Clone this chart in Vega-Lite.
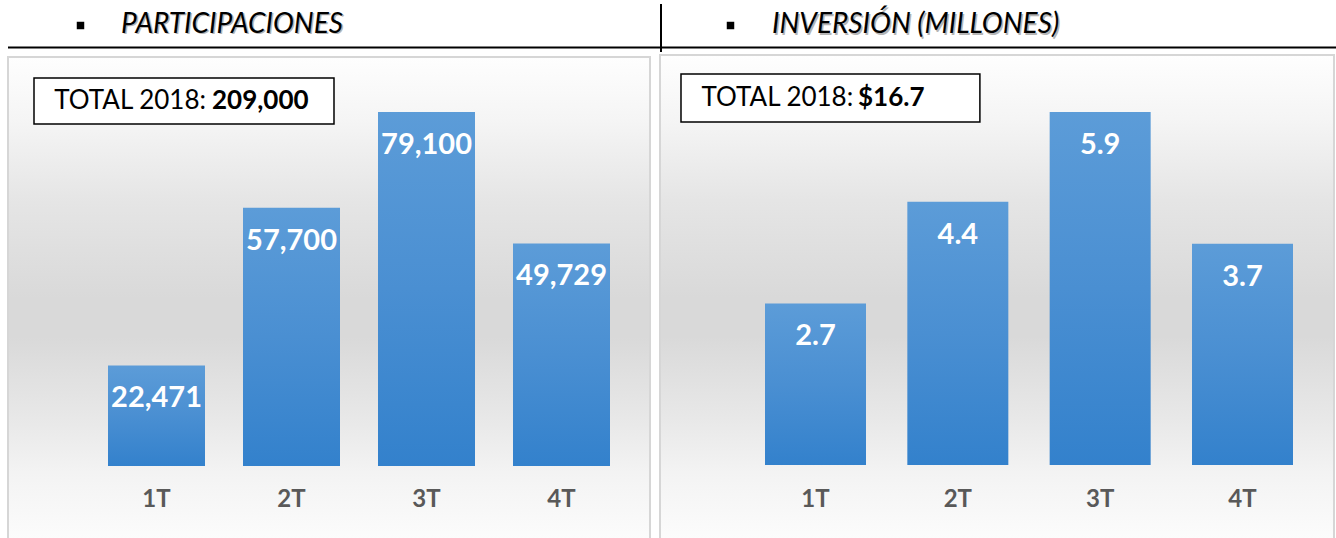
{
  "$schema": "https://vega.github.io/schema/vega-lite/v6.json",
  "padding": 0,
  "autosize": {"type": "pad"},
  "bounds": "flush",
  "spacing": 0,
  "background": "white",
  "config": {"view": {"stroke": null}, "axis": {"disable": true}, "font": "Lato", "legend": {"disable": true}},
  "hconcat": [
    {
      "width": 661,
      "height": 538,
      "data": {"values": [
        {"trimestre": "1T", "orden": 1, "valor": 22471},
        {"trimestre": "2T", "orden": 2, "valor": 57700},
        {"trimestre": "3T", "orden": 3, "valor": 79100},
        {"trimestre": "4T", "orden": 4, "valor": 49729}
      ]},
      "encoding": {
        "x": {"type": "quantitative", "scale": {"domain": [1, 4], "range": [156.5, 561.5], "nice": false, "zero": false, "padding": 0}, "axis": null},
        "y": {"type": "quantitative", "scale": {"domain": [0, 79100], "range": [466, 112], "nice": false, "zero": false, "padding": 0}, "axis": null}
      },
      "layer": [
        {
          "data": {"values": [{"panel": "fondo"}]},
          "mark": {"type": "rect", "stroke": "#d6d6d6", "strokeWidth": 2, "fill": {"gradient": "linear", "x1": 0, "y1": 0, "x2": 0, "y2": 1, "stops": [
            {"offset": 0, "color": "#fefefe"}, {"offset": 0.13, "color": "#f5f5f5"}, {"offset": 0.3, "color": "#e5e5e5"}, {"offset": 0.5, "color": "#d9d9d9"}, {"offset": 0.58, "color": "#d9d9d9"}, {"offset": 0.75, "color": "#e8e8e8"}, {"offset": 0.86, "color": "#f3f3f3"}, {"offset": 1, "color": "#fcfcfc"}]}},
          "encoding": {
            "x": {"datum": -0.1, "type": "quantitative"}, "x2": {"datum": 4.6556},
            "y": {"datum": 91390, "type": "quantitative"}, "y2": {"datum": -16535}
          }
        },
        {
          "data": {"values": [{"linea": "encabezado"}]},
          "mark": {"type": "rule", "stroke": "black", "strokeWidth": 2},
          "encoding": {
            "x": {"datum": -0.1, "type": "quantitative"}, "x2": {"datum": 4.737},
            "y": {"datum": 93513, "type": "quantitative"}
          }
        },
        {
          "data": {"values": [{"titulo": "PARTICIPACIONES"}]},
          "layer": [
            {
              "mark": {"type": "square", "size": 56, "filled": true, "color": "black", "opacity": 1},
              "encoding": {"x": {"datum": 0.437, "type": "quantitative"}, "y": {"datum": 98428, "type": "quantitative"}}
            },
            {
              "mark": {"type": "text", "align": "left", "baseline": "middle", "fontStyle": "italic", "fontSize": 28, "color": "#b5b5b5", "dx": 1.5, "dy": 1.5},
              "encoding": {"x": {"datum": 0.737, "type": "quantitative"}, "y": {"datum": 98540, "type": "quantitative"}, "text": {"field": "titulo"}}
            },
            {
              "mark": {"type": "text", "align": "left", "baseline": "middle", "fontStyle": "italic", "fontSize": 28, "color": "black"},
              "encoding": {"x": {"datum": 0.737, "type": "quantitative"}, "y": {"datum": 98540, "type": "quantitative"}, "text": {"field": "titulo"}}
            }
          ]
        },
        {
          "data": {"values": [{"etiqueta": "TOTAL 2018:", "total": "209,000"}]},
          "layer": [
            {
              "mark": {"type": "rect", "fill": "white", "stroke": "black", "strokeWidth": 1.5},
              "encoding": {"x": {"datum": 0.0926, "type": "quantitative"}, "x2": {"datum": 2.3148}, "y": {"datum": 86697, "type": "quantitative"}, "y2": {"datum": 76419}}
            },
            {
              "mark": {"type": "text", "align": "right", "baseline": "middle", "fontSize": 26, "color": "black"},
              "encoding": {"x": {"datum": 1.3667, "type": "quantitative"}, "y": {"datum": 81558, "type": "quantitative"}, "text": {"field": "etiqueta"}}
            },
            {
              "mark": {"type": "text", "align": "left", "baseline": "middle", "fontSize": 26, "fontWeight": "bold", "color": "black"},
              "encoding": {"x": {"datum": 1.4111, "type": "quantitative"}, "y": {"datum": 81558, "type": "quantitative"}, "text": {"field": "total"}}
            }
          ]
        },
        {
          "mark": {"type": "bar", "orient": "vertical", "width": 97, "color": {"gradient": "linear", "x1": 0, "y1": 0, "x2": 0, "y2": 1, "stops": [{"offset": 0, "color": "#5c9cd8"}, {"offset": 0.5, "color": "#4a8fd2"}, {"offset": 1, "color": "#3381cc"}]}},
          "encoding": {"x": {"field": "orden"}, "y": {"field": "valor"}, "y2": {"datum": 0}}
        },
        {
          "mark": {"type": "text", "baseline": "middle", "align": "center", "dy": 33, "fontSize": 29, "fontWeight": "bold", "color": "white"},
          "encoding": {"x": {"field": "orden"}, "y": {"field": "valor"}, "text": {"field": "valor", "type": "quantitative", "format": ","}}
        },
        {
          "mark": {"type": "text", "baseline": "middle", "align": "center", "fontSize": 24, "fontWeight": "bold", "color": "#595959"},
          "encoding": {"x": {"field": "orden"}, "y": {"datum": -7597, "type": "quantitative"}, "text": {"field": "trimestre"}}
        }
      ]
    },
    {
      "width": 675,
      "height": 538,
      "data": {"values": [
        {"trimestre": "1T", "orden": 1, "valor": 2.7},
        {"trimestre": "2T", "orden": 2, "valor": 4.4},
        {"trimestre": "3T", "orden": 3, "valor": 5.9},
        {"trimestre": "4T", "orden": 4, "valor": 3.7}
      ]},
      "encoding": {
        "x": {"type": "quantitative", "scale": {"domain": [1, 4], "range": [154.5, 581.5], "nice": false, "zero": false, "padding": 0}, "axis": null},
        "y": {"type": "quantitative", "scale": {"domain": [0, 5.9], "range": [465, 112], "nice": false, "zero": false, "padding": 0}, "axis": null}
      },
      "layer": [
        {
          "data": {"values": [{"panel": "fondo"}]},
          "mark": {"type": "rect", "stroke": "#d6d6d6", "strokeWidth": 2, "fill": {"gradient": "linear", "x1": 0, "y1": 0, "x2": 0, "y2": 1, "stops": [
            {"offset": 0, "color": "#fefefe"}, {"offset": 0.13, "color": "#f5f5f5"}, {"offset": 0.3, "color": "#e5e5e5"}, {"offset": 0.5, "color": "#d9d9d9"}, {"offset": 0.58, "color": "#d9d9d9"}, {"offset": 0.75, "color": "#e8e8e8"}, {"offset": 0.86, "color": "#f3f3f3"}, {"offset": 1, "color": "#fcfcfc"}]}},
          "encoding": {
            "x": {"datum": -0.0925, "type": "quantitative"}, "x2": {"datum": 4.6429},
            "y": {"datum": 6.8527, "type": "quantitative"}, "y2": {"datum": -1.2535}
          }
        },
        {
          "data": {"values": [{"linea": "encabezado"}]},
          "layer": [
            {
              "mark": {"type": "rule", "stroke": "black", "strokeWidth": 2},
              "encoding": {"x": {"datum": -0.0855, "type": "quantitative"}, "x2": {"datum": 4.6573}, "y": {"datum": 6.978, "type": "quantitative"}}
            },
            {
              "mark": {"type": "rule", "stroke": "black", "strokeWidth": 2},
              "encoding": {"x": {"datum": -0.0855, "type": "quantitative"}, "y": {"datum": 7.7051, "type": "quantitative"}, "y2": {"datum": 6.9028}}
            }
          ]
        },
        {
          "data": {"values": [{"titulo": "INVERSIÓN (MILLONES)"}]},
          "layer": [
            {
              "mark": {"type": "square", "size": 56, "filled": true, "color": "black", "opacity": 1},
              "encoding": {"x": {"datum": 0.4028, "type": "quantitative"}, "y": {"datum": 7.3457, "type": "quantitative"}}
            },
            {
              "mark": {"type": "text", "align": "left", "baseline": "middle", "fontStyle": "italic", "fontSize": 28, "color": "#b5b5b5", "dx": 1.5, "dy": 1.5},
              "encoding": {"x": {"datum": 0.6944, "type": "quantitative"}, "y": {"datum": 7.354, "type": "quantitative"}, "text": {"field": "titulo"}}
            },
            {
              "mark": {"type": "text", "align": "left", "baseline": "middle", "fontStyle": "italic", "fontSize": 28, "color": "black"},
              "encoding": {"x": {"datum": 0.6944, "type": "quantitative"}, "y": {"datum": 7.354, "type": "quantitative"}, "text": {"field": "titulo"}}
            }
          ]
        },
        {
          "data": {"values": [{"etiqueta": "TOTAL 2018:", "total": "$16.7"}]},
          "layer": [
            {
              "mark": {"type": "rect", "fill": "white", "stroke": "black", "strokeWidth": 1.5},
              "encoding": {"x": {"datum": 0.055, "type": "quantitative"}, "x2": {"datum": 2.155}, "y": {"datum": 6.535, "type": "quantitative"}, "y2": {"datum": 5.733}}
            },
            {
              "mark": {"type": "text", "align": "right", "baseline": "middle", "fontSize": 26, "color": "black"},
              "encoding": {"x": {"datum": 1.2649, "type": "quantitative"}, "y": {"datum": 6.134, "type": "quantitative"}, "text": {"field": "etiqueta"}}
            },
            {
              "mark": {"type": "text", "align": "left", "baseline": "middle", "fontSize": 26, "fontWeight": "bold", "color": "black"},
              "encoding": {"x": {"datum": 1.2986, "type": "quantitative"}, "y": {"datum": 6.134, "type": "quantitative"}, "text": {"field": "total"}}
            }
          ]
        },
        {
          "mark": {"type": "bar", "orient": "vertical", "width": 101, "color": {"gradient": "linear", "x1": 0, "y1": 0, "x2": 0, "y2": 1, "stops": [{"offset": 0, "color": "#5c9cd8"}, {"offset": 0.5, "color": "#4a8fd2"}, {"offset": 1, "color": "#3381cc"}]}},
          "encoding": {"x": {"field": "orden"}, "y": {"field": "valor"}, "y2": {"datum": 0}}
        },
        {
          "mark": {"type": "text", "baseline": "middle", "align": "center", "dy": 33, "fontSize": 29, "fontWeight": "bold", "color": "white"},
          "encoding": {"x": {"field": "orden"}, "y": {"field": "valor"}, "text": {"field": "valor", "type": "quantitative", "format": ".1f"}}
        },
        {
          "mark": {"type": "text", "baseline": "middle", "align": "center", "fontSize": 24, "fontWeight": "bold", "color": "#595959"},
          "encoding": {"x": {"field": "orden"}, "y": {"datum": -0.585, "type": "quantitative"}, "text": {"field": "trimestre"}}
        }
      ]
    }
  ]
}
